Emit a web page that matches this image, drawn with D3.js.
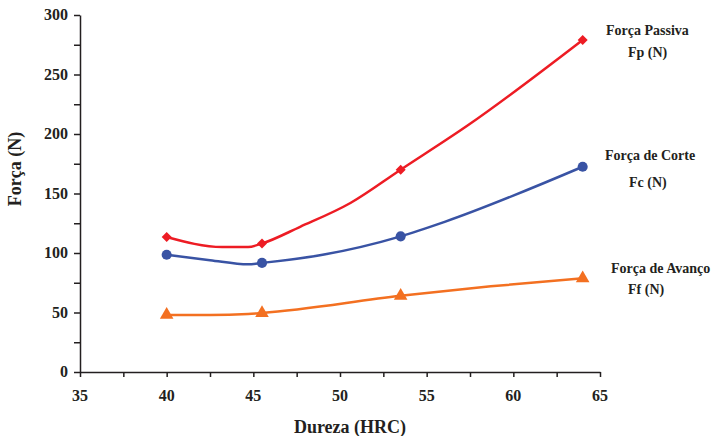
<!DOCTYPE html>
<html><head><meta charset="utf-8">
<script src="https://cdn.jsdelivr.net/npm/d3@7"></script>
<style>body{margin:0;background:#fff}svg{display:block}</style>
</head><body><svg id="c" width="726" height="436" font-family="'Liberation Serif', 'Times New Roman', serif" font-weight="bold"></svg>
<script>
// Data
const xTicks = [35, 40, 45, 50, 55, 60, 65];
const yTicks = [0, 50, 100, 150, 200, 250, 300];
// Força Passiva (line vertices, markers at measured points)
const fpLineX = [40, 43.2, 44.7, 45.5, 47.7, 50.6, 53.5, 57.4, 64];
const fpLineY = [113.5, 105, 105, 108, 122, 142, 170, 207.5, 279];
const fpMarkX = [40, 45.5, 53.5, 64];
const fpMarkY = [113.5, 108, 170, 279];
// Força de Corte
const fcLineX = [40, 42.5, 44.7, 45.5, 49, 53.5, 56, 64];
const fcLineY = [98.5, 94, 90.5, 91.7, 98.5, 114, 126, 172.5];
const fcMarkX = [40, 45.5, 53.5, 64];
const fcMarkY = [98.5, 91.7, 114, 172.5];
// Força de Avanço
const ffLineX = [40, 42.5, 44.7, 45.5, 53.5, 58.7, 64];
const ffLineY = [48, 48, 48.8, 49.6, 64, 72, 78.7];
const ffMarkX = [40, 45.5, 53.5, 64];
const ffMarkY = [48, 49.6, 64, 78.7];
const legendLines = [["Força Passiva","Fp (N)"],["Força de Corte","Fc (N)"],["Força de Avanço","Ff (N)"]];

const svg = d3.select("#c");
const x = d3.scaleLinear().domain([35, 65]).range([80, 600]);
const y = d3.scaleLinear().domain([0, 300]).range([372, 15]);
const black = "#231f20";

const minorX = d3.range(35, 65.01, 2.5);
const minorY = d3.range(0, 300.01, 25);
const ax = svg.append("g").attr("transform", "translate(0,372)")
  .call(d3.axisBottom(x).tickValues(minorX).tickSize(5).tickFormat("").tickSizeOuter(0));
const ay = svg.append("g").attr("transform", "translate(80,0)")
  .call(d3.axisLeft(y).tickValues(minorY).tickSize(6).tickFormat("").tickSizeOuter(0));
[ax, ay].forEach(g => { g.selectAll("path,line").attr("stroke", black).attr("stroke-width", 1.5); });

svg.append("g").selectAll("text").data(xTicks).join("text")
  .attr("x", d => x(d)).attr("y", 401).attr("text-anchor", "middle")
  .attr("font-size", 16).attr("fill", black).text(d => d);
svg.append("g").selectAll("text").data(yTicks).join("text")
  .attr("x", 68).attr("y", d => y(d) + 5).attr("text-anchor", "end")
  .attr("font-size", 16).attr("fill", black).text(d => d);

svg.append("text").attr("x", 350).attr("y", 433).attr("text-anchor", "middle")
  .attr("font-size", 18).attr("fill", black).text("Dureza (HRC)");
svg.append("text").attr("transform", "translate(21,169) rotate(-90)").attr("text-anchor", "middle")
  .attr("font-size", 18).attr("fill", black).text("Força (N)");

const line = d3.line().x(d => x(d[0])).y(d => y(d[1])).curve(d3.curveMonotoneX);
function series(lx, ly, mx, my, color, sym, size, rot) {
  svg.append("path").datum(lx.map((v, i) => [v, ly[i]])).attr("d", line)
    .attr("fill", "none").attr("stroke", color).attr("stroke-width", 2.5);
  svg.append("g").selectAll("path").data(mx.map((v, i) => [v, my[i]])).join("path")
    .attr("transform", d => `translate(${x(d[0])},${y(d[1])}) rotate(${rot})`)
    .attr("d", d3.symbol().type(sym).size(size)).attr("fill", color);
}
series(fpLineX, fpLineY, fpMarkX, fpMarkY, "#ed1c24", d3.symbolSquare, 50, 45);
series(fcLineX, fcLineY, fcMarkX, fcMarkY, "#3953a4", d3.symbolCircle, 80, 0);
series(ffLineX, ffLineY, ffMarkX, ffMarkY, "#f37021", d3.symbolTriangle, 80, 0);

const legPos = [[606, 35, 628, 57], [605, 160, 629, 187], [611, 273, 628, 294]];
legendLines.forEach((l, i) => {
  const p = legPos[i];
  svg.append("text").attr("x", p[0]).attr("y", p[1]).attr("font-size", 14).attr("fill", black).text(l[0]);
  svg.append("text").attr("x", p[2]).attr("y", p[3]).attr("font-size", 14).attr("fill", black).text(l[1]);
});
</script></body></html>
